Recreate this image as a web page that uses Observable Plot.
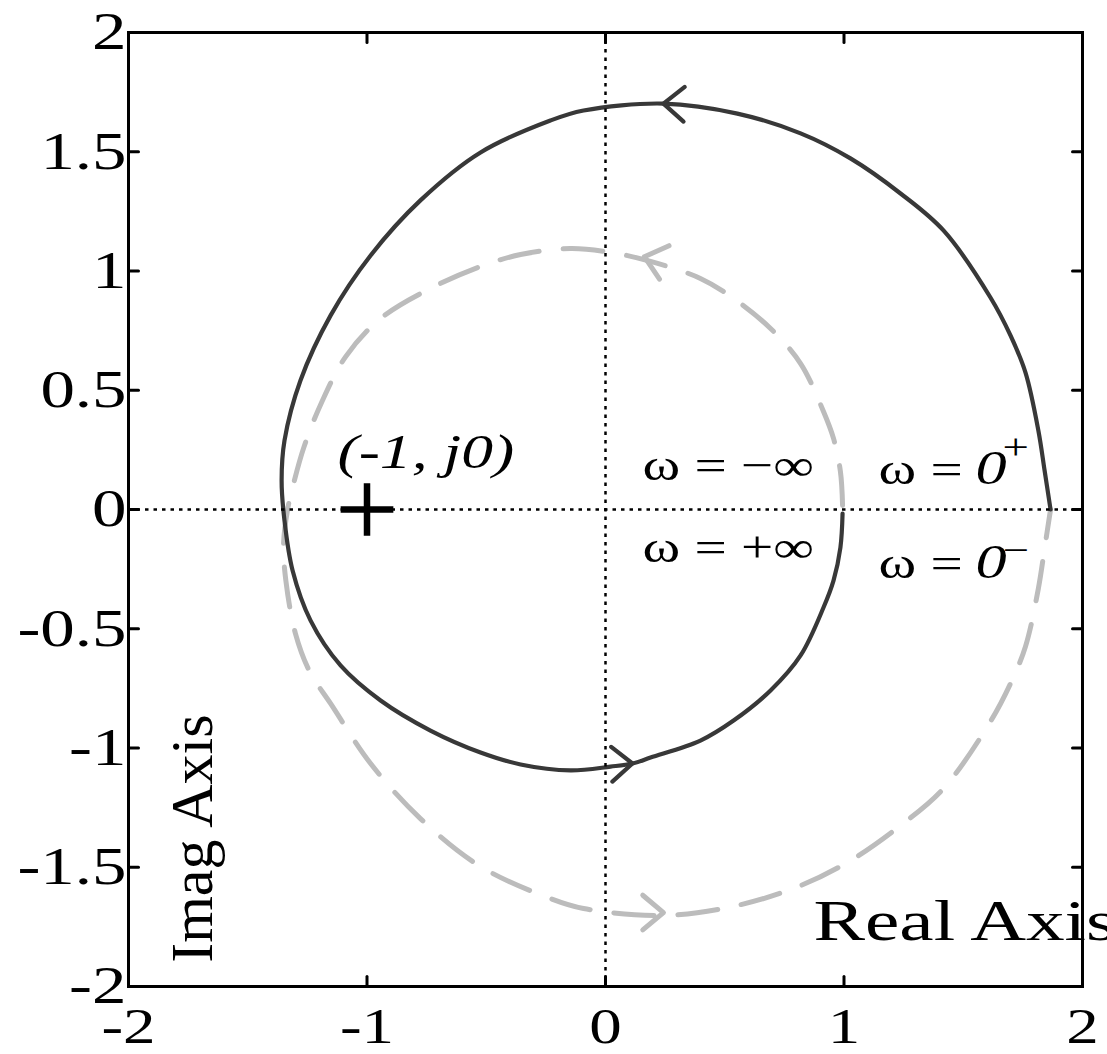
<!DOCTYPE html>
<html><head><meta charset="utf-8">
<script src="https://cdn.jsdelivr.net/npm/d3@7"></script>
<script src="https://cdn.jsdelivr.net/npm/@observablehq/plot@0.6"></script>
<style>
html,body{margin:0;padding:0;background:#fff;overflow:hidden;}
#chart{width:1107px;height:1054px;}
</style>
</head><body><div id="chart"></div>
<script>
// ---- data ----
const xTicks = [-2, -1, 0, 1, 2];
const yTicks = [-2, -1.5, -1, -0.5, 0, 0.5, 1, 1.5, 2];

// solid curve: omega from 0+ to +inf
const solidX = [1.866,1.841,1.815,1.761,1.698,1.614,1.417,1.237,1.027,0.818,0.553,0.243,-0.092,-0.231,-0.524,-0.776,-0.985,-1.153,-1.279,-1.346,-1.358,-1.346,-1.312,-1.237,-1.111,-0.943,-0.734,-0.524,-0.356,-0.147,0.021,0.113,0.189,0.398,0.537,0.692,0.818,0.914,0.956,0.985,0.994];
const solidY = [0,0.164,0.331,0.574,0.730,0.889,1.170,1.325,1.472,1.577,1.660,1.702,1.673,1.631,1.497,1.296,1.065,0.813,0.541,0.289,0.122,-0.046,-0.256,-0.465,-0.654,-0.801,-0.927,-1.019,-1.069,-1.094,-1.078,-1.065,-1.040,-0.969,-0.885,-0.759,-0.612,-0.411,-0.298,-0.159,-0.017];

// dashed curve: omega from -inf to 0-
const dashedX = [0.994,0.985,0.956,0.914,0.818,0.692,0.537,0.398,0.189,0.021,-0.147,-0.356,-0.524,-0.734,-0.943,-1.09,-1.19,-1.265,-1.310,-1.333,-1.350,-1.340,-1.300,-1.240,-1.153,-0.985,-0.776,-0.524,-0.231,-0.092,0.243,0.553,0.818,1.027,1.237,1.417,1.614,1.698,1.761,1.815,1.841,1.866];
const dashedY = [0.017,0.159,0.298,0.411,0.612,0.759,0.885,0.969,1.040,1.078,1.094,1.069,1.019,0.927,0.801,0.64,0.45,0.26,0.10,0.0,-0.15,-0.30,-0.52,-0.68,-0.813,-1.065,-1.296,-1.497,-1.631,-1.673,-1.702,-1.660,-1.577,-1.472,-1.325,-1.170,-0.889,-0.730,-0.574,-0.331,-0.164,0];

// direction arrows (tip position and heading, degrees clockwise from up)
const arrowX = [0.243, 0.113, 0.163, 0.243];
const arrowY = [1.702, -1.065, 1.06, -1.69];
const arrowDir = [272, 88, 286, 90];
const arrowSeries = ["solid", "solid", "dashed", "dashed"];

// critical point
const critX = [-1];
const critY = [0];

// ---- build ----
const solid = solidX.map((x, i) => ({x, y: solidY[i]}));
const dashed = dashedX.map((x, i) => ({x, y: dashedY[i]}));
const arrows = arrowX.map((x, i) => ({x, y: arrowY[i], dir: arrowDir[i], s: arrowSeries[i]}));
const crit = critX.map((x, i) => ({x, y: critY[i]}));

const serif = "'Liberation Serif','Times New Roman',Times,serif";
const tickShape = {draw(ctx, l) { ctx.moveTo(0, 0); ctx.lineTo(0, -l); }};
const chevron = {draw(ctx, l) {
  const a = 40 * Math.PI / 180;
  ctx.moveTo(-l * Math.sin(a), l * Math.cos(a));
  ctx.lineTo(0, 0);
  ctx.lineTo(l * Math.sin(a), l * Math.cos(a));
}};
const innerX = xTicks.slice(1, -1);
const innerY = yTicks.slice(1, -1);
const solidColor = "#383838";
const grayColor = "#bcbcbc";

const fig = Plot.plot({
  width: 1107,
  height: 1054,
  marginLeft: 128,
  marginTop: 32,
  marginRight: 25,
  marginBottom: 68,
  x: {domain: [-2, 2]},
  y: {domain: [-2, 2]},
  style: {fontFamily: serif, fontSize: "52px", color: "black", background: "white"},
  marks: [
    Plot.line(dashed, {x: "x", y: "y", curve: "catmull-rom", stroke: grayColor, strokeWidth: 5, strokeDasharray: "40,24", strokeLinecap: "round"}),
    Plot.line(solid, {x: "x", y: "y", curve: "catmull-rom", stroke: solidColor, strokeWidth: 4.2, strokeLinejoin: "round"}),
    Plot.vector(arrows.filter(d => d.s === "dashed"), {x: "x", y: "y", rotate: "dir", length: 27, anchor: "start", shape: chevron, stroke: grayColor, strokeWidth: 5, strokeLinecap: "round"}),
    Plot.vector(arrows.filter(d => d.s === "solid"), {x: "x", y: "y", rotate: "dir", length: 27, anchor: "start", shape: chevron, stroke: solidColor, strokeWidth: 4.2, strokeLinecap: "round"}),
    Plot.ruleX([0], {stroke: "black", strokeWidth: 2.5, strokeDasharray: "3.5,5"}),
    Plot.ruleY([0], {stroke: "black", strokeWidth: 2.5, strokeDasharray: "3.5,5"}),
    Plot.dot(crit, {x: "x", y: "y", symbol: "plus", r: 17, stroke: "black", strokeWidth: 6.5}),
    // frame and inward ticks
    Plot.frame({stroke: "black", strokeWidth: 3}),
    Plot.vector(innerY, {x: -2, y: d => d, rotate: 90, length: 10, anchor: "start", shape: tickShape, stroke: "black", strokeWidth: 3}),
    Plot.vector(innerY, {x: 2, y: d => d, rotate: 270, length: 10, anchor: "start", shape: tickShape, stroke: "black", strokeWidth: 3}),
    Plot.vector(innerX, {x: d => d, y: -2, rotate: 0, length: 10, anchor: "start", shape: tickShape, stroke: "black", strokeWidth: 3}),
    Plot.vector(innerX, {x: d => d, y: 2, rotate: 180, length: 10, anchor: "start", shape: tickShape, stroke: "black", strokeWidth: 3}),
    Plot.axisY({ticks: yTicks, tickSize: 0, tickPadding: 2, label: null, tickFormat: d => String(d), fontSize: 53}),
    Plot.axisX({ticks: xTicks, tickSize: 0, tickPadding: 21, label: null, tickFormat: d => String(d), fontSize: 50}),
    // annotations
    Plot.text(["(-1, j0)"], {x: -1.124, y: 0.176, textAnchor: "start", lineAnchor: "bottom", fontSize: 49, fontStyle: "italic", fill: "black"}),
    Plot.text(["ω = −∞"], {x: 0.155, y: 0.122, textAnchor: "start", lineAnchor: "bottom", fontSize: 44, fill: "black"}),
    Plot.text(["ω = +∞"], {x: 0.155, y: -0.222, textAnchor: "start", lineAnchor: "bottom", fontSize: 44, fill: "black"}),
    Plot.text(["ω ="], {x: 1.145, y: 0.109, textAnchor: "start", lineAnchor: "bottom", fontSize: 44, fill: "black"}),
    Plot.text(["0"], {x: 1.551, y: 0.109, textAnchor: "start", lineAnchor: "bottom", fontSize: 48, fontStyle: "italic", fill: "black"}),
    Plot.text(["+"], {x: 1.665, y: 0.212, textAnchor: "start", lineAnchor: "bottom", fontSize: 36, fill: "black"}),
    Plot.text(["ω ="], {x: 1.145, y: -0.289, textAnchor: "start", lineAnchor: "bottom", fontSize: 44, fill: "black"}),
    Plot.text(["0"], {x: 1.551, y: -0.289, textAnchor: "start", lineAnchor: "bottom", fontSize: 48, fontStyle: "italic", fill: "black"}),
    Plot.text(["−"], {x: 1.665, y: -0.222, textAnchor: "start", lineAnchor: "bottom", fontSize: 36, fill: "black"}),
    Plot.text(["Real Axis"], {x: 0.872, y: -1.807, textAnchor: "start", lineAnchor: "bottom", fontSize: 56, fill: "black"}),
    Plot.text(["Imag Axis"], {x: -1.732, y: -1.38, rotate: -90, textAnchor: "middle", lineAnchor: "middle", fontSize: 60, fill: "black"})
  ]
});
document.getElementById("chart").append(fig);

// horizontal glyph stretch to mimic the reference's wide serif lettering
fig.querySelectorAll("text").forEach(t => {
  const s = t.textContent.trim();
  if (s === "Imag Axis") return;
  const k = s === "Real Axis" ? 1.38 : 1.3;
  const w = t.getComputedTextLength();
  if (w > 0) {
    t.setAttribute("textLength", (w * k).toFixed(1));
    t.setAttribute("lengthAdjust", "spacingAndGlyphs");
  }
});
</script>
</body></html>
